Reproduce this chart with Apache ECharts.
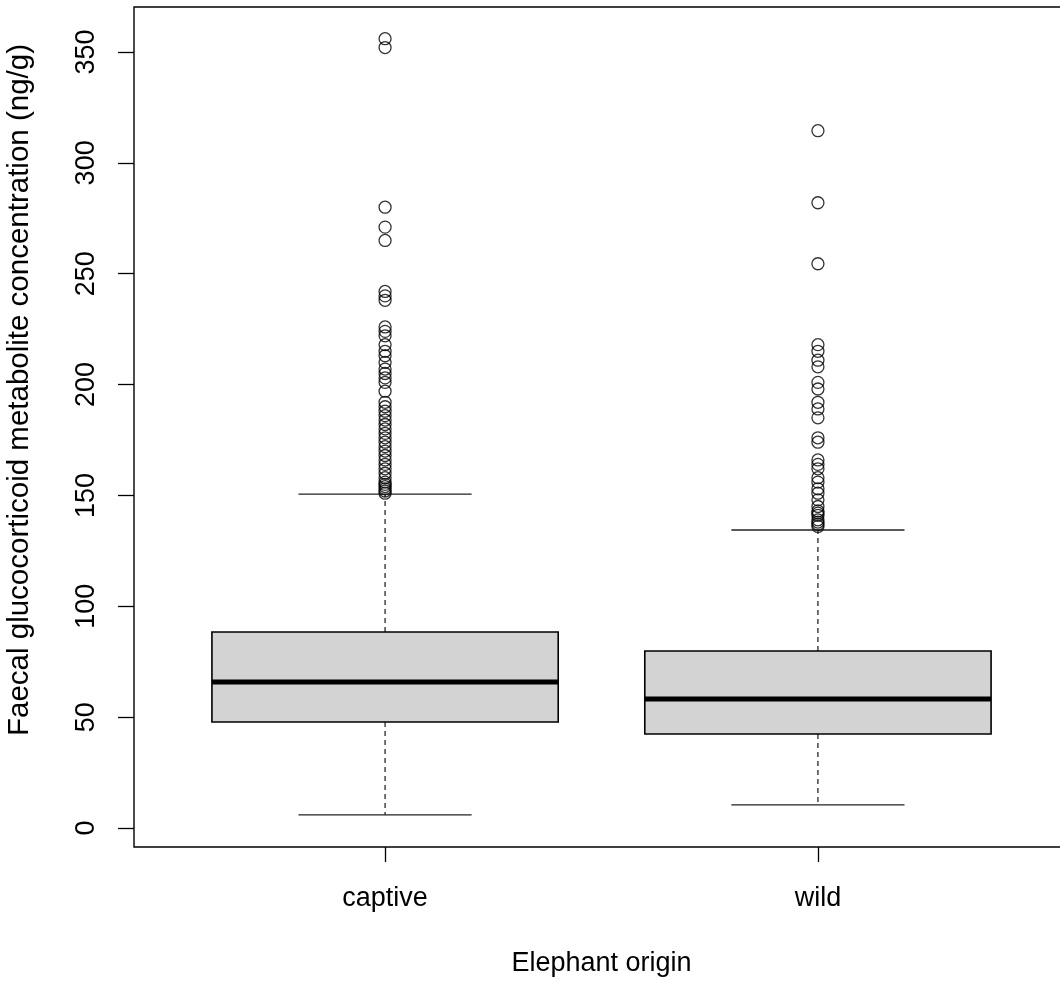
<!DOCTYPE html>
<html>
<head>
<meta charset="utf-8">
<script src="https://cdn.jsdelivr.net/npm/echarts@6/dist/echarts.min.js"></script>
<style>
html,body{margin:0;padding:0;background:#fff;}
#chart{width:1060px;height:981px;}
</style>
</head>
<body>
<div id="chart"></div>
<script>
// ---- data ----
const categories = ['captive', 'wild'];
const positions = [1, 2];
const lowerWhisker = [5.9, 10.4];
const q1 = [47.8, 42.4];
const median = [65.9, 58.2];
const q3 = [88.4, 79.8];
const upperWhisker = [150.6, 134.4];
const captiveOutliers = [356, 352, 280, 271, 265, 242, 240, 238, 226, 224, 222, 218, 215, 213, 210, 207, 205, 203, 201, 197, 192, 190, 188, 186, 184, 182, 180, 178, 176, 174, 172, 170, 168, 166, 164, 162, 160, 158, 156, 155, 154, 153, 152, 151];
const wildOutliers = [314.5, 282, 254.5, 218, 215, 211, 208, 201, 198, 192, 189, 185, 176, 174, 166, 164, 162, 158, 156, 153, 151, 148, 145, 143, 142, 141, 139, 138, 137, 136];
const yTicks = [0, 50, 100, 150, 200, 250, 300, 350];
const yName = 'Faecal glucocorticoid metabolite concentration (ng/g)';
const xName = 'Elephant origin';

// ---- build ----
const boxData = positions.map((p, i) => [p, lowerWhisker[i], q1[i], median[i], q3[i], upperWhisker[i]]);
const outlierData = [];
captiveOutliers.forEach(v => outlierData.push([1, v]));
wildOutliers.forEach(v => outlierData.push([2, v]));

const FONT = 'Liberation Sans, Arial, sans-serif';
const chart = echarts.init(document.getElementById('chart'));

function renderBox(params, api) {
  const x = api.value(0);
  const lo = api.coord([x, api.value(1)]);
  const b1 = api.coord([x, api.value(2)]);
  const md = api.coord([x, api.value(3)]);
  const b3 = api.coord([x, api.value(4)]);
  const hi = api.coord([x, api.value(5)]);
  const halfW = api.size([0.4, 0])[0];
  const capHalf = api.size([0.2, 0])[0];
  const px = lo[0];
  return {
    type: 'group',
    children: [
      { type: 'line', shape: { x1: px, y1: b3[1], x2: px, y2: hi[1] }, style: { stroke: '#000', lineWidth: 1.1, lineDash: [5, 4] } },
      { type: 'line', shape: { x1: px, y1: b1[1], x2: px, y2: lo[1] }, style: { stroke: '#000', lineWidth: 1.1, lineDash: [5, 4] } },
      { type: 'line', shape: { x1: px - capHalf, y1: hi[1], x2: px + capHalf, y2: hi[1] }, style: { stroke: '#222', lineWidth: 1.3 } },
      { type: 'line', shape: { x1: px - capHalf, y1: lo[1], x2: px + capHalf, y2: lo[1] }, style: { stroke: '#222', lineWidth: 1.3 } },
      { type: 'rect', shape: { x: px - halfW, y: b3[1], width: 2 * halfW, height: b1[1] - b3[1] }, style: { fill: '#D3D3D3', stroke: '#000', lineWidth: 1.6 } },
      { type: 'line', shape: { x1: px - halfW, y1: md[1], x2: px + halfW, y2: md[1] }, style: { stroke: '#000', lineWidth: 5 } }
    ]
  };
}

const option = {
  backgroundColor: '#fff',
  animation: false,
  textStyle: { fontFamily: FONT, color: '#000' },
  grid: { left: 134, top: 7, width: 935, height: 840, outerBoundsMode: 'none', containLabel: false,
    show: true, borderColor: '#000', borderWidth: 1.4, backgroundColor: 'transparent' },
  xAxis: {
    type: 'value', min: 0.42, max: 2.58,
    name: xName, nameLocation: 'middle', nameGap: 103,
    nameTextStyle: { fontSize: 27, color: '#000', fontFamily: FONT },
    axisLine: { show: false, onZero: false },
    splitLine: { show: false },
    axisTick: { show: true, inside: false, length: 15, customValues: positions, lineStyle: { color: '#000', width: 1.3 } },
    axisLabel: { show: true, margin: 38, fontSize: 27, color: '#000', fontFamily: FONT, customValues: positions,
      formatter: v => categories[Math.round(v) - 1] || '' }
  },
  yAxis: {
    type: 'value', min: -8.5696, max: 370.296,
    name: yName, nameLocation: 'middle', nameGap: 99, nameRotate: 90,
    nameTextStyle: { fontSize: 29.5, color: '#000', fontFamily: FONT, padding: [0, 0, 0, 74] },
    axisLine: { show: false, onZero: false },
    splitLine: { show: false },
    axisTick: { show: true, length: 16, customValues: yTicks, lineStyle: { color: '#000', width: 1.3 } },
    axisLabel: { show: true, rotate: 90, margin: 34, fontSize: 27, color: '#000', fontFamily: FONT, customValues: yTicks }
  },
  series: [
    { type: 'custom', renderItem: renderBox, data: boxData, encode: { x: 0, y: [1, 2, 3, 4, 5] }, z: 2 },
    { type: 'scatter', data: outlierData, symbol: 'circle', symbolSize: 12,
      itemStyle: { color: 'transparent', borderColor: '#000', borderWidth: 1.3 }, z: 3 }
  ]
};
chart.setOption(option);
</script>
</body>
</html>
